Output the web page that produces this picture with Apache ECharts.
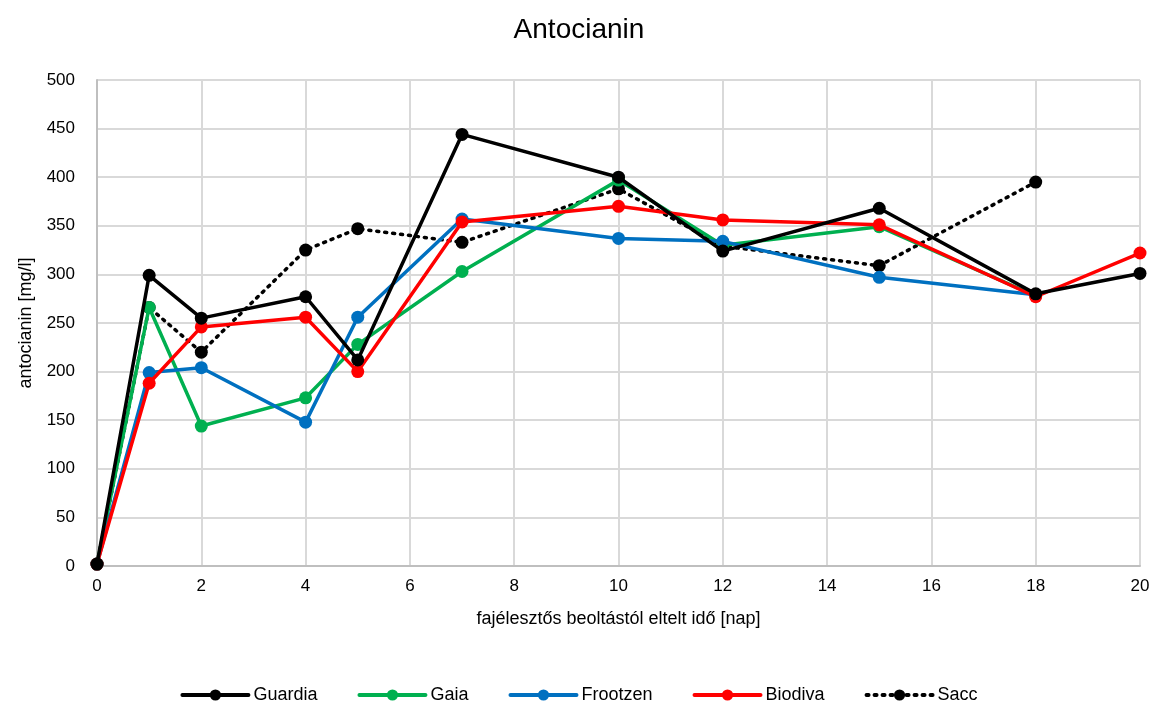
<!DOCTYPE html>
<html><head><meta charset="utf-8">
<script src="https://cdn.jsdelivr.net/npm/echarts@6/dist/echarts.min.js"></script>
<style>html,body{margin:0;padding:0;background:#fff}#c{width:1158px;height:713px}</style>
</head><body><div id="c"></div>
<script>
var days = [0, 1, 2, 4, 5, 7, 10, 12, 15, 18, 20];
var guardia  = [2, 299, 255, 277, 212, 444, 400, 324, 368, 280, 301];
var gaia     = [2, 266, 144, 173, 228, 303, 397, 330, 349, 278, null];
var frootzen = [2, 199, 204, 148, 256, 357, 337, 334, 297, 279, null];
var biodiva  = [2, 188, 246, 256, 200, 354, 370, 356, 351, 277, 322];
var sacc     = [2, 266, 220, 325, 347, 333, 388, 329, 309, 395, null];
var names = ['Guardia', 'Gaia', 'Frootzen', 'Biodiva', 'Sacc'];
var colors = ['#000000', '#00b050', '#0070c0', '#ff0000', '#000000'];
var dataSets = [guardia, gaia, frootzen, biodiva, sacc];

function pairs(arr) {
  var out = [];
  for (var i = 0; i < days.length; i++) if (arr[i] !== null) out.push([days[i], arr[i]]);
  return out;
}
var font = 'Liberation Sans, Arial, sans-serif';
var series = names.map(function (n, i) {
  return {
    name: n, type: 'line', data: pairs(dataSets[i]),
    symbol: 'circle', symbolSize: 13,
    lineStyle: { color: colors[i], width: 3.5, type: n === 'Sacc' ? [2, 6] : 'solid', cap: 'round' },
    itemStyle: { color: colors[i] },
    z: [5, 2, 3, 4, 1][i]
  };
});
var chart = echarts.init(document.getElementById('c'));
chart.setOption({
  animation: false,
  title: { text: 'Antocianin', left: 'center', top: 11, textStyle: { fontFamily: font, fontSize: 28, fontWeight: 'normal', color: '#000' } },
  grid: { left: 97, right: 18, top: 80, bottom: 147 },
  legend: {
    bottom: 4, left: 'center', itemWidth: 66, itemHeight: 14, itemGap: 40,
    lineStyle: { width: 4 },
    textStyle: { fontFamily: font, fontSize: 18, color: '#000' },
    data: names
  },
  xAxis: {
    type: 'value', min: 0, max: 20, interval: 2,
    name: 'fajélesztős beoltástól eltelt idő [nap]', nameLocation: 'middle', nameGap: 44,
    nameTextStyle: { fontFamily: font, fontSize: 18, color: '#000' },
    axisLine: { show: true, lineStyle: { color: '#bfbfbf', width: 2 } },
    axisTick: { show: false },
    axisLabel: { fontFamily: font, fontSize: 17, color: '#000', margin: 12 },
    splitLine: { show: true, lineStyle: { color: '#d9d9d9', width: 2 } }
  },
  yAxis: {
    type: 'value', min: 0, max: 500, interval: 50,
    name: 'antocianin [mg/l]', nameLocation: 'middle', nameGap: 62,
    nameTextStyle: { fontFamily: font, fontSize: 18, color: '#000' },
    axisLine: { show: true, lineStyle: { color: '#bfbfbf', width: 2 } },
    axisTick: { show: false },
    axisLabel: { fontFamily: font, fontSize: 17, color: '#000', margin: 22 },
    splitLine: { show: true, lineStyle: { color: '#d9d9d9', width: 2 } }
  },
  series: series
});
</script></body></html>
